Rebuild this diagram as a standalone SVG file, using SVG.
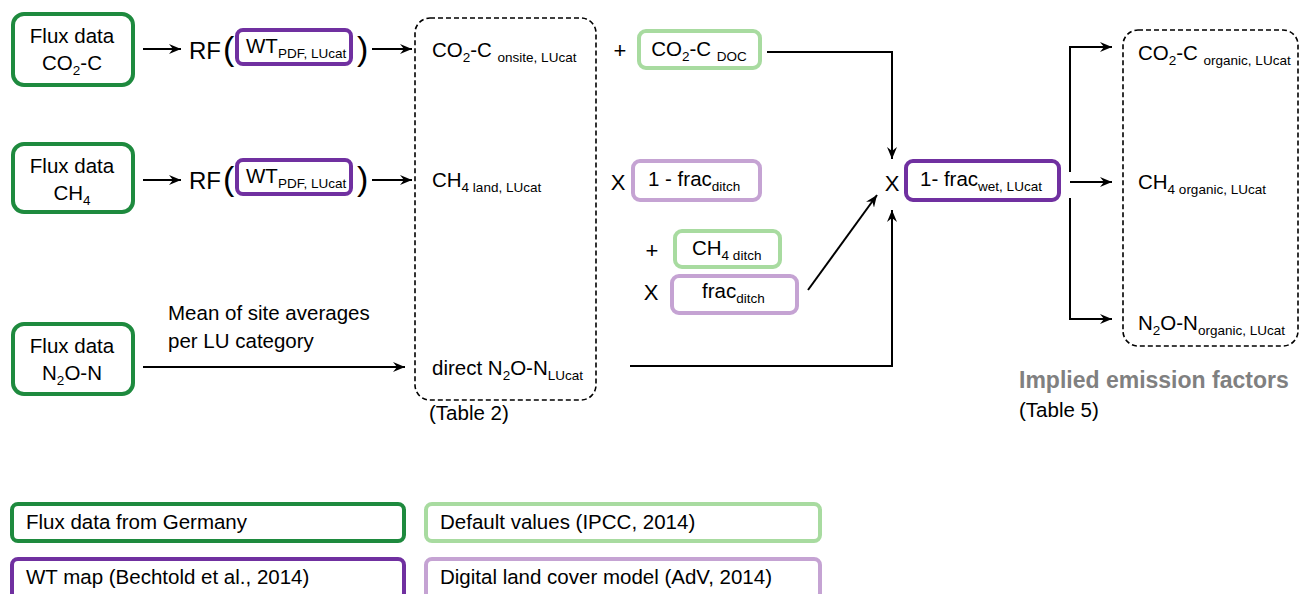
<svg xmlns="http://www.w3.org/2000/svg" width="1301" height="594" viewBox="0 0 1301 594">
<style>
text{font-family:"Liberation Sans",Arial,sans-serif;fill:#000;font-size:20.5px}
.c{text-anchor:middle}
.s{font-size:13.5px}
.dg{fill:#fff;stroke:#1e8a3e;stroke-width:4}
.pu{fill:#fff;stroke:#7030a0;stroke-width:4}
.lg{fill:#fff;stroke:#a8dba0;stroke-width:4}
.lp{fill:#fff;stroke:#c5a3d3;stroke-width:4}
.da{fill:none;stroke:#000;stroke-width:1.6;stroke-dasharray:5,3}
.ln{fill:none;stroke:#000;stroke-width:2}
.big{font-size:24px}
.par{font-size:34px}
.op{font-size:22px}
</style>
<defs>
<marker id="ah" viewBox="0 0 12 10" refX="12" refY="5" markerWidth="12" markerHeight="10" markerUnits="userSpaceOnUse" orient="auto">
<path d="M0,0 L12,5 L0,10 L4,5 Z" fill="#000"/>
</marker>
</defs>

<g id="flux-co2">
<rect class="dg" x="13" y="14" width="120" height="71" rx="11"/>
<text class="c" x="72" y="43">Flux data</text>
<text class="c" x="72" y="70">CO<tspan class="s" dy="5">2</tspan><tspan dy="-5">-C</tspan></text>
</g>
<g id="flux-ch4">
<rect class="dg" x="13" y="144" width="120" height="68" rx="11"/>
<text class="c" x="72" y="173">Flux data</text>
<text class="c" x="72" y="200">CH<tspan class="s" dy="5">4</tspan></text>
</g>
<g id="flux-n2o">
<rect class="dg" x="13" y="324" width="120" height="70" rx="11"/>
<text class="c" x="72" y="353">Flux data</text>
<text class="c" x="72" y="380">N<tspan class="s" dy="5">2</tspan><tspan dy="-5">O-N</tspan></text>
</g>

<g id="rf-co2">
<text class="big" x="189" y="59">RF</text>
<text class="par" x="223" y="60">(</text>
<rect class="pu" x="237" y="30" width="114" height="34" rx="6"/>
<text x="246" y="53">WT<tspan class="s" dy="5">PDF, LUcat</tspan></text>
<text class="par" x="357" y="60">)</text>
</g>
<g id="rf-ch4">
<text class="big" x="189" y="189">RF</text>
<text class="par" x="223" y="190">(</text>
<rect class="pu" x="237" y="160" width="114" height="34" rx="6"/>
<text x="246" y="183">WT<tspan class="s" dy="5">PDF, LUcat</tspan></text>
<text class="par" x="357" y="190">)</text>
</g>

<g id="table2">
<rect class="da" x="415" y="18" width="181" height="382" rx="15"/>
<text x="432" y="57">CO<tspan class="s" dy="5">2</tspan><tspan dy="-5">-C </tspan><tspan class="s" dy="5">onsite, LUcat</tspan></text>
<text x="432" y="187">CH<tspan class="s" dy="5">4 land, LUcat</tspan></text>
<text x="432" y="375">direct N<tspan class="s" dy="5">2</tspan><tspan dy="-5">O-N</tspan><tspan class="s" dy="5">LUcat</tspan></text>
<text x="429" y="420">(Table 2)</text>
</g>

<g id="co2-doc">
<text class="c op" x="620" y="58">+</text>
<rect class="lg" x="639" y="31" width="121" height="37" rx="7"/>
<text class="c" x="699" y="56">CO<tspan class="s" dy="5">2</tspan><tspan dy="-5">-C </tspan><tspan class="s" dy="5">DOC</tspan></text>
</g>
<g id="one-minus-frac-ditch">
<text class="c op" x="618" y="190">X</text>
<rect class="lp" x="633" y="161" width="127" height="39" rx="7"/>
<text x="648" y="186">1 - frac<tspan class="s" dy="5">ditch</tspan></text>
</g>
<g id="ch4-ditch">
<text class="c op" x="652" y="258">+</text>
<rect class="lg" x="675" y="231" width="105" height="36" rx="7"/>
<text x="692" y="255">CH<tspan class="s" dy="5">4 ditch</tspan></text>
</g>
<g id="frac-ditch">
<text class="c op" x="651" y="300">X</text>
<rect class="lp" x="672" y="276" width="125" height="37" rx="7"/>
<text x="702" y="298">frac<tspan class="s" dy="5">ditch</tspan></text>
</g>

<g id="frac-wet">
<text class="c op" x="892" y="191">X</text>
<rect class="pu" x="906" y="161" width="153" height="39" rx="7"/>
<text x="920" y="186">1- frac<tspan class="s" dy="5">wet, LUcat</tspan></text>
</g>

<g id="table5">
<rect class="da" x="1123" y="30" width="175" height="316" rx="15"/>
<text x="1138" y="60">CO<tspan class="s" dy="5">2</tspan><tspan dy="-5">-C </tspan><tspan class="s" dy="5">organic, LUcat</tspan></text>
<text x="1138" y="189">CH<tspan class="s" dy="5">4 organic, LUcat</tspan></text>
<text x="1138" y="330">N<tspan class="s" dy="5">2</tspan><tspan dy="-5">O-N</tspan><tspan class="s" dy="5">organic, LUcat</tspan></text>
<text x="1019" y="388" style="font-weight:bold;fill:#808080;font-size:23px">Implied emission factors</text>
<text x="1019" y="417">(Table 5)</text>
</g>

<g id="mean-label">
<text x="168" y="320">Mean of site averages</text>
<text x="168" y="348">per LU category</text>
</g>

<g id="connectors">
<line class="ln" x1="143" y1="49" x2="181" y2="49" marker-end="url(#ah)"/>
<line class="ln" x1="143" y1="180" x2="181" y2="180" marker-end="url(#ah)"/>
<line class="ln" x1="372" y1="49" x2="412" y2="49" marker-end="url(#ah)"/>
<line class="ln" x1="372" y1="180" x2="412" y2="180" marker-end="url(#ah)"/>
<line class="ln" x1="143" y1="367" x2="405" y2="367" marker-end="url(#ah)"/>
<polyline class="ln" points="767,52 892,52 892,159" marker-end="url(#ah)"/>
<line class="ln" x1="808" y1="290" x2="877" y2="195" marker-end="url(#ah)"/>
<polyline class="ln" points="630,366 892,366 892,210" marker-end="url(#ah)"/>
<polyline class="ln" points="1070,172 1070,47 1112,47" marker-end="url(#ah)"/>
<line class="ln" x1="1070" y1="182" x2="1112" y2="182" marker-end="url(#ah)"/>
<polyline class="ln" points="1070,198 1070,319 1112,319" marker-end="url(#ah)"/>
</g>

<g id="legend-germany">
<rect class="dg" x="12" y="504" width="392" height="37" rx="6"/>
<text x="26" y="529">Flux data from Germany</text>
</g>
<g id="legend-ipcc">
<rect class="lg" x="426" y="504" width="394" height="37" rx="6"/>
<text x="440" y="529">Default values (IPCC, 2014)</text>
</g>
<g id="legend-wt">
<rect class="pu" x="12" y="559" width="392" height="40" rx="6"/>
<text x="26" y="584">WT map (Bechtold et al., 2014)</text>
</g>
<g id="legend-adv">
<rect class="lp" x="426" y="559" width="394" height="40" rx="6"/>
<text x="440" y="584">Digital land cover model (AdV, 2014)</text>
</g>
</svg>
